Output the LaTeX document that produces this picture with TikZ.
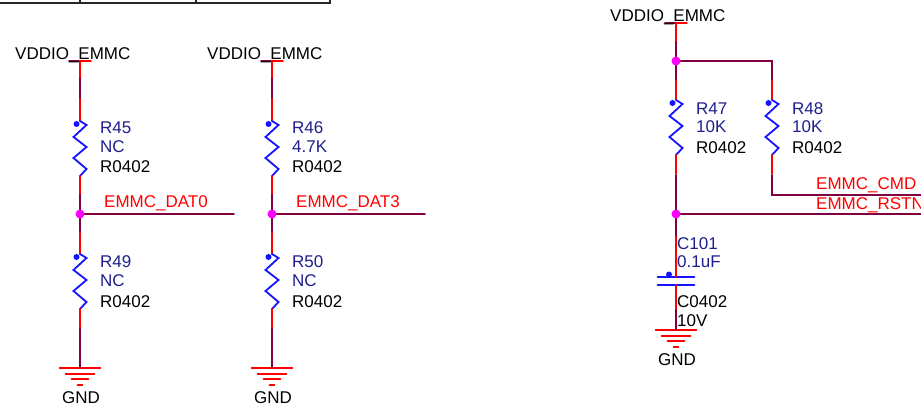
\documentclass[tikz,border=0pt]{standalone}
\usepackage{fontspec}
\setmainfont{Liberation Sans}
\usepackage{tikz}
\usetikzlibrary{calc}
\definecolor{schRed}{rgb}{1, 0, 0}
\definecolor{schMaroon}{RGB}{128, 0, 64}
\definecolor{schBlue}{RGB}{20, 20, 255}
\definecolor{schNavy}{RGB}{30, 30, 140}
\definecolor{schMagenta}{RGB}{255, 0, 255}
\tikzset{
	netwire/.style={schMaroon, line width=1.8pt},
	partpin/.style={schRed, line width=1.8pt},
	partbody/.style={schBlue, line width=1.8pt, line join=miter},
	junction/.style={fill=schMagenta},
	partname/.style={anchor=base west, text=schNavy},
	partinfo/.style={anchor=base west, text=black},
	netname/.style={anchor=base west, text=schRed},
}
\newcommand{\Resistor}[2]{
	\def\rname{#1}
	\def\rtop{#2}
	\coordinate (\rname-top) at (\rtop);
	\coordinate (\rname-bot) at ($(\rtop)+(0,55)$);
	\draw[partbody] (\rname-top) -- ++(6.5,4) -- ++(-13,12) -- ++(13,10) -- ++(-13,11) -- ++(13,11) -- (\rname-bot);
	\fill[schBlue] ($(\rname-top)+(-3.5,3)$) circle (3pt);
}
\newcommand{\Capacitor}[2]{
	\def\cname{#1}
	\def\ctop{#2}
	\coordinate (\cname-top) at (\ctop);
	\coordinate (\cname-bot) at ($(\ctop)+(0,8)$);
	\draw[partbody] ($(\cname-top)-(18.5,0)$) -- +(37,0);
	\draw[partbody] ($(\cname-bot)-(18.5,0)$) -- +(37,0);
	\fill[schBlue] ($(\cname-top)+(-7,-2.5)$) circle (3pt);
}
\newcommand{\PowerPort}[3]{
	\def\pname{#1}
	\def\ppin{#2}
	\coordinate (\pname) at (\ppin);
	\draw[schMaroon, line width=1.8pt] ($(\pname)-(11,0)$) -- (\pname);
	\draw[partpin] (\pname) -- +(11,0);
	\node[anchor=base west] (\pname-label) at ($(\pname)+(#3,-1)$) {VDDIO\_EMMC};
}
\newcommand{\Ground}[2]{
	\def\gname{#1}
	\def\gpin{#2}
	\coordinate (\gname) at (\gpin);
	\foreach \dy/\hw in {0/20.5, 6/14.5, 11/8.5, 17/2.5}
		\draw[partpin] ($(\gname)+(-\hw,\dy)$) -- +(2*\hw,0);
	\node[anchor=base] (\gname-label) at ($(\gname)+(1,35)$) {GND};
}

\begin{document}
\begin{tikzpicture}[x=1pt, y=-1pt, line cap=round, every node/.style={inner sep=0pt, font=\fontsize{17}{20}\selectfont}]
	\useasboundingbox (0,0) rectangle (921,414);

	% frame of the table above
	\draw[black!85, line width=1.5pt] (0,3) -- (330,3) -- (330,0);
	\foreach \tx in {80, 196}
		\draw[black!85, line width=1.5pt] (\tx,0) -- (\tx,3);

	% two divider columns
	\foreach \xw/\up/\dn/\upval/\dnval/\net/\nend in {80/45/49/NC/NC/0/234, 272/46/50/4.7K/NC/3/425}{
		\PowerPort{vdd\up}{\xw,61}{-65}
		\draw[partpin] (vdd\up) -- (\xw,79);
		\draw[netwire] (\xw,79) -- (\xw,99);
		\draw[partpin] (\xw,99) -- (\xw,121);
		\Resistor{r\up}{\xw,121}
		\draw[partpin] (r\up-bot) -- ++(0,19);
		\coordinate (dat\net) at (\xw,214);
		\draw[netwire] (\xw,195) -- (dat\net) -- (\xw,233);
		\draw[netwire] (dat\net) -- (\nend,214);
		\draw[partpin] (\xw,233) -- (\xw,254);
		\Resistor{r\dn}{\xw,254}
		\draw[partpin] (r\dn-bot) -- ++(0,20);
		\Ground{gnd\dn}{\xw,368}
		\draw[netwire] (\xw,329) -- (gnd\dn);
		\fill[junction] (dat\net) circle (4.5pt);

		\node[partname] (r\up-name) at ($(r\up-top)+(20,13)$) {R\up};
		\node[partname] (r\up-val) at ($(r\up-top)+(20,32)$) {\upval};
		\node[partinfo] (r\up-pkg) at ($(r\up-top)+(20,52)$) {R0402};
		\node[partname] (r\dn-name) at ($(r\dn-top)+(20,14)$) {R\dn};
		\node[partname] (r\dn-val) at ($(r\dn-top)+(20,33)$) {\dnval};
		\node[partinfo] (r\dn-pkg) at ($(r\dn-top)+(20,53)$) {R0402};
		\node[netname] (dat\net-label) at ($(dat\net)+(24,-6)$) {EMMC\_DAT\net};
	}

	% pull-ups on CMD and RSTN
	\PowerPort{vdd47}{676,23}{-66}
	\coordinate (top) at (676,61);
	\coordinate (rstn) at (676,214);
	\draw[partpin] (vdd47) -- (676,42);
	\draw[netwire] (676,42) -- (top) -- (676,80);
	\draw[netwire] (top) -- (772,61) -- (772,80);
	\draw[partpin] (676,80) -- (676,100);
	\draw[partpin] (772,80) -- (772,100);
	\Resistor{r47}{676,100}
	\Resistor{r48}{772,100}
	\draw[partpin] (r47-bot) -- ++(0,19);
	\draw[partpin] (r48-bot) -- ++(0,19);
	\draw[netwire] (676,175) -- (rstn) -- (676,237);
	\draw[netwire] (772,175) -- (772,195) -- (921,195);
	\draw[netwire] (rstn) -- (921,214);
	\Capacitor{c101}{676,277}
	\draw[partpin] (676,237) -- (c101-top);
	\draw[partpin] (c101-bot) -- (676,310);
	\Ground{gnd101}{676,330}
	\draw[netwire] (676,310) -- (gnd101);
	\fill[junction] (top) circle (4.5pt);
	\fill[junction] (rstn) circle (4.5pt);

	\node[partname] (r47-name) at (696,115) {R47};
	\node[partname] (r47-val) at (696,133) {10K};
	\node[partinfo] (r47-pkg) at (696,154) {R0402};
	\node[partname] (r48-name) at (792,115) {R48};
	\node[partname] (r48-val) at (792,133) {10K};
	\node[partinfo] (r48-pkg) at (792,154) {R0402};
	\node[netname] (cmd-label) at (816,190) {EMMC\_CMD};
	\node[netname] (rstn-label) at (816,210) {EMMC\_RSTN};
	\node[partname] (c101-name) at (677,250) {C101};
	\node[partname] (c101-val) at (677,268) {0.1uF};
	\node[partinfo] (c101-pkg) at (677,307) {C0402};
	\node[partinfo] (c101-volt) at (677,326) {10V};

\end{tikzpicture}
\end{document}
